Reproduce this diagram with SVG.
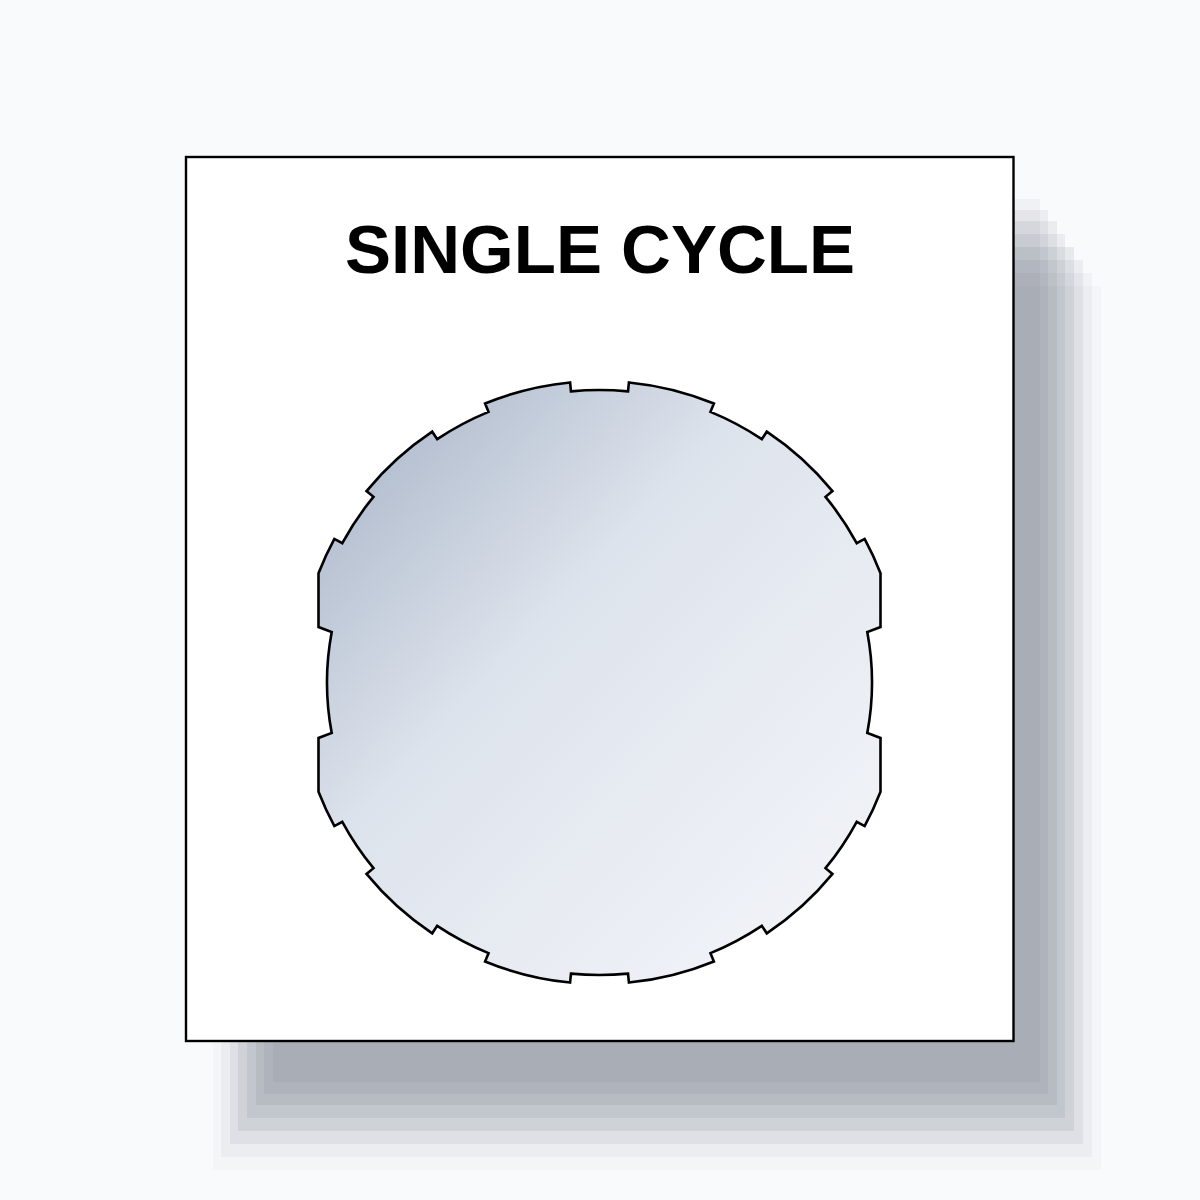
<svg xmlns="http://www.w3.org/2000/svg" width="1200" height="1200" viewBox="0 0 1200 1200">
  <defs>
    <linearGradient id="glass" x1="0" y1="0" x2="1" y2="1">
      <stop offset="0" stop-color="#a3b0c4"/>
      <stop offset="0.4" stop-color="#dde3ec"/>
      <stop offset="0.6" stop-color="#e6eaf1"/>
      <stop offset="1" stop-color="#f4f6fa"/>
    </linearGradient>
    <style>
      .sh { fill: #28374b; }
      .plate { fill: #ffffff; stroke: #000000; stroke-width: 2.4; }
      .title { font-family: "Liberation Sans", Arial, sans-serif; font-weight: bold; font-size: 69px; fill: #000000; text-anchor: middle; }
      .window { fill: url(#glass); stroke: #000000; stroke-width: 2.6; stroke-linejoin: miter; }
    </style>
  </defs>
  <rect x="0" y="0" width="1200" height="1200" fill="#f9fafc"/>
  <g id="shadow">
    <rect class="sh" x="273" y="199" width="767" height="883" fill-opacity="0.045"/>
    <rect class="sh" x="264" y="210" width="784" height="884" fill-opacity="0.062"/>
    <rect class="sh" x="256" y="221" width="801" height="884" fill-opacity="0.070"/>
    <rect class="sh" x="247" y="234" width="818" height="884" fill-opacity="0.072"/>
    <rect class="sh" x="238" y="247" width="836" height="884" fill-opacity="0.082"/>
    <rect class="sh" x="230" y="260" width="853" height="884" fill-opacity="0.061"/>
    <rect class="sh" x="221" y="273" width="871" height="884" fill-opacity="0.039"/>
    <rect class="sh" x="213" y="286" width="888" height="884" fill-opacity="0.029"/>
  </g>
  <g id="plate">
    <rect class="plate" x="186" y="157" width="827.5" height="884"/>
  </g>
  <g id="title">
    <text class="title" x="600" y="273">SINGLE CYCLE</text>
  </g>
  <g id="window">
    <path class="window" d="M 570.96 391.40
      A 292.5 292.5 0 0 1 628.04 391.40
      L 628.92 382.44
      A 301.5 301.5 0 0 1 713.91 403.55
      L 710.49 411.88
      A 292.5 292.5 0 0 1 761.79 439.15
      L 766.79 431.67
      A 301.5 301.5 0 0 1 832.48 491.13
      L 825.52 496.84
      A 292.5 292.5 0 0 1 856.70 543.20
      L 864.61 538.91
      A 301.5 301.5 0 0 1 880.5 573.23
      L 880.5 627
      L 867.28 632
      A 272.5 272.5 0 0 1 867.28 733
      L 880.5 738
      L 880.5 791.77
      A 301.5 301.5 0 0 1 864.61 826.09
      L 856.70 821.80
      A 292.5 292.5 0 0 1 825.52 868.16
      L 832.48 873.87
      A 301.5 301.5 0 0 1 766.79 933.33
      L 761.79 925.85
      A 292.5 292.5 0 0 1 710.49 953.12
      L 713.91 961.45
      A 301.5 301.5 0 0 1 628.92 982.56
      L 628.04 973.60
      A 292.5 292.5 0 0 1 570.96 973.60
      L 570.08 982.56
      A 301.5 301.5 0 0 1 485.09 961.45
      L 488.51 953.12
      A 292.5 292.5 0 0 1 437.21 925.85
      L 432.21 933.33
      A 301.5 301.5 0 0 1 366.52 873.87
      L 373.48 868.16
      A 292.5 292.5 0 0 1 342.30 821.80
      L 334.39 826.09
      A 301.5 301.5 0 0 1 318.5 791.77
      L 318.5 738
      L 331.72 733
      A 272.5 272.5 0 0 1 331.72 632
      L 318.5 627
      L 318.5 573.23
      A 301.5 301.5 0 0 1 334.39 538.91
      L 342.30 543.20
      A 292.5 292.5 0 0 1 373.48 496.84
      L 366.52 491.13
      A 301.5 301.5 0 0 1 432.21 431.67
      L 437.21 439.15
      A 292.5 292.5 0 0 1 488.51 411.88
      L 485.09 403.55
      A 301.5 301.5 0 0 1 570.08 382.44
      Z"/>
  </g>
</svg>
